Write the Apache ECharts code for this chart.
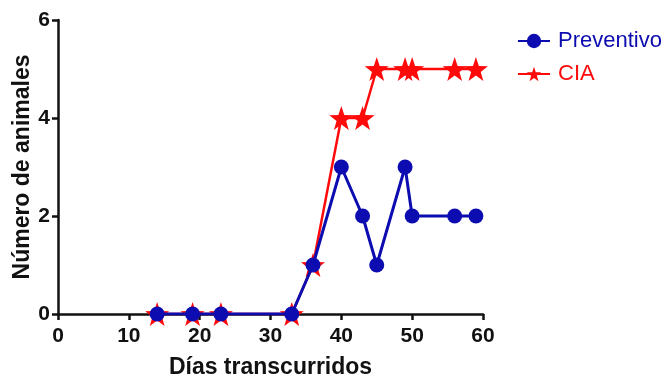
<!DOCTYPE html>
<html>
<head>
<meta charset="utf-8">
<script src="https://cdn.jsdelivr.net/npm/echarts@6/dist/echarts.min.js"></script>
<style>
  html, body { margin: 0; padding: 0; background: #fff; }
  #chart { width: 666px; height: 377px; }
</style>
</head>
<body>
<div id="chart"></div>
<script>
// datos
const dias = [14, 19, 23, 33, 36, 40, 43, 45, 49, 50, 56, 59];
const preventivo = [0, 0, 0, 0, 1, 3, 2, 1, 3, 2, 2, 2];
const cia = [0, 0, 0, 0, 1, 4, 4, 5, 5, 5, 5, 5];
const xTicks = [0, 10, 20, 30, 40, 50, 60];
const yTicks = [0, 2, 4, 6];

const FONT = '"Liberation Sans", Arial, sans-serif';
const BLUE = '#0c0cb0';
const RED = '#ff0a0a';

const chart = echarts.init(document.getElementById('chart'));

const axisCommon = {
  axisLine: { show: true, lineStyle: { color: '#111', width: 2.5 } },
  axisTick: { show: true, length: 6, lineStyle: { color: '#111', width: 2.5 } },
  splitLine: { show: false },
  axisLabel: { color: '#111', fontFamily: FONT, fontWeight: 'bold', fontSize: 21 },
  nameTextStyle: { color: '#111', fontFamily: FONT, fontWeight: 'bold', fontSize: 23 },
  nameLocation: 'middle',
  nameMoveOverlap: false
};

chart.setOption({
  animation: false,
  backgroundColor: '#fff',
  grid: { left: 58, right: 183, top: 20, bottom: 63, outerBoundsMode: 'none', containLabel: false },
  legend: {
    orient: 'vertical',
    left: 512,
    top: 25,
    itemWidth: 32,
    itemHeight: 18,
    itemGap: 11,
    data: [
      { name: 'Preventivo', textStyle: { color: BLUE } },
      { name: 'CIA', textStyle: { color: RED } }
    ],
    textStyle: { fontFamily: FONT, fontSize: 22, padding: [0, 0, 0, 3] }
  },
  xAxis: Object.assign({}, axisCommon, {
    type: 'value',
    min: xTicks[0],
    max: xTicks[xTicks.length - 1],
    interval: 10,
    name: 'Días transcurridos',
    nameGap: 42,
    axisLabel: Object.assign({}, axisCommon.axisLabel, { margin: 12 })
  }),
  yAxis: Object.assign({}, axisCommon, {
    type: 'value',
    min: yTicks[0],
    max: yTicks[yTicks.length - 1],
    interval: 2,
    name: 'Número de animales',
    nameGap: 24,
    axisLabel: Object.assign({}, axisCommon.axisLabel, { margin: 8 })
  }),
  series: [
    {
      name: 'CIA',
      type: 'line',
      z: 2,
      data: dias.map((d, i) => [d, cia[i]]),
      symbol: 'path://M0,-10L2.35,-3.24L9.51,-3.09L3.8,1.24L5.88,8.09L0,4L-5.88,8.09L-3.8,1.24L-9.51,-3.09L-2.35,-3.24Z',
      symbolSize: 24,
      itemStyle: { color: RED },
      lineStyle: { color: RED, width: 2.5 }
    },
    {
      name: 'Preventivo',
      type: 'line',
      z: 3,
      data: dias.map((d, i) => [d, preventivo[i]]),
      symbol: 'circle',
      symbolSize: 15,
      itemStyle: { color: BLUE },
      lineStyle: { color: BLUE, width: 3 }
    }
  ]
});
</script>
</body>
</html>
